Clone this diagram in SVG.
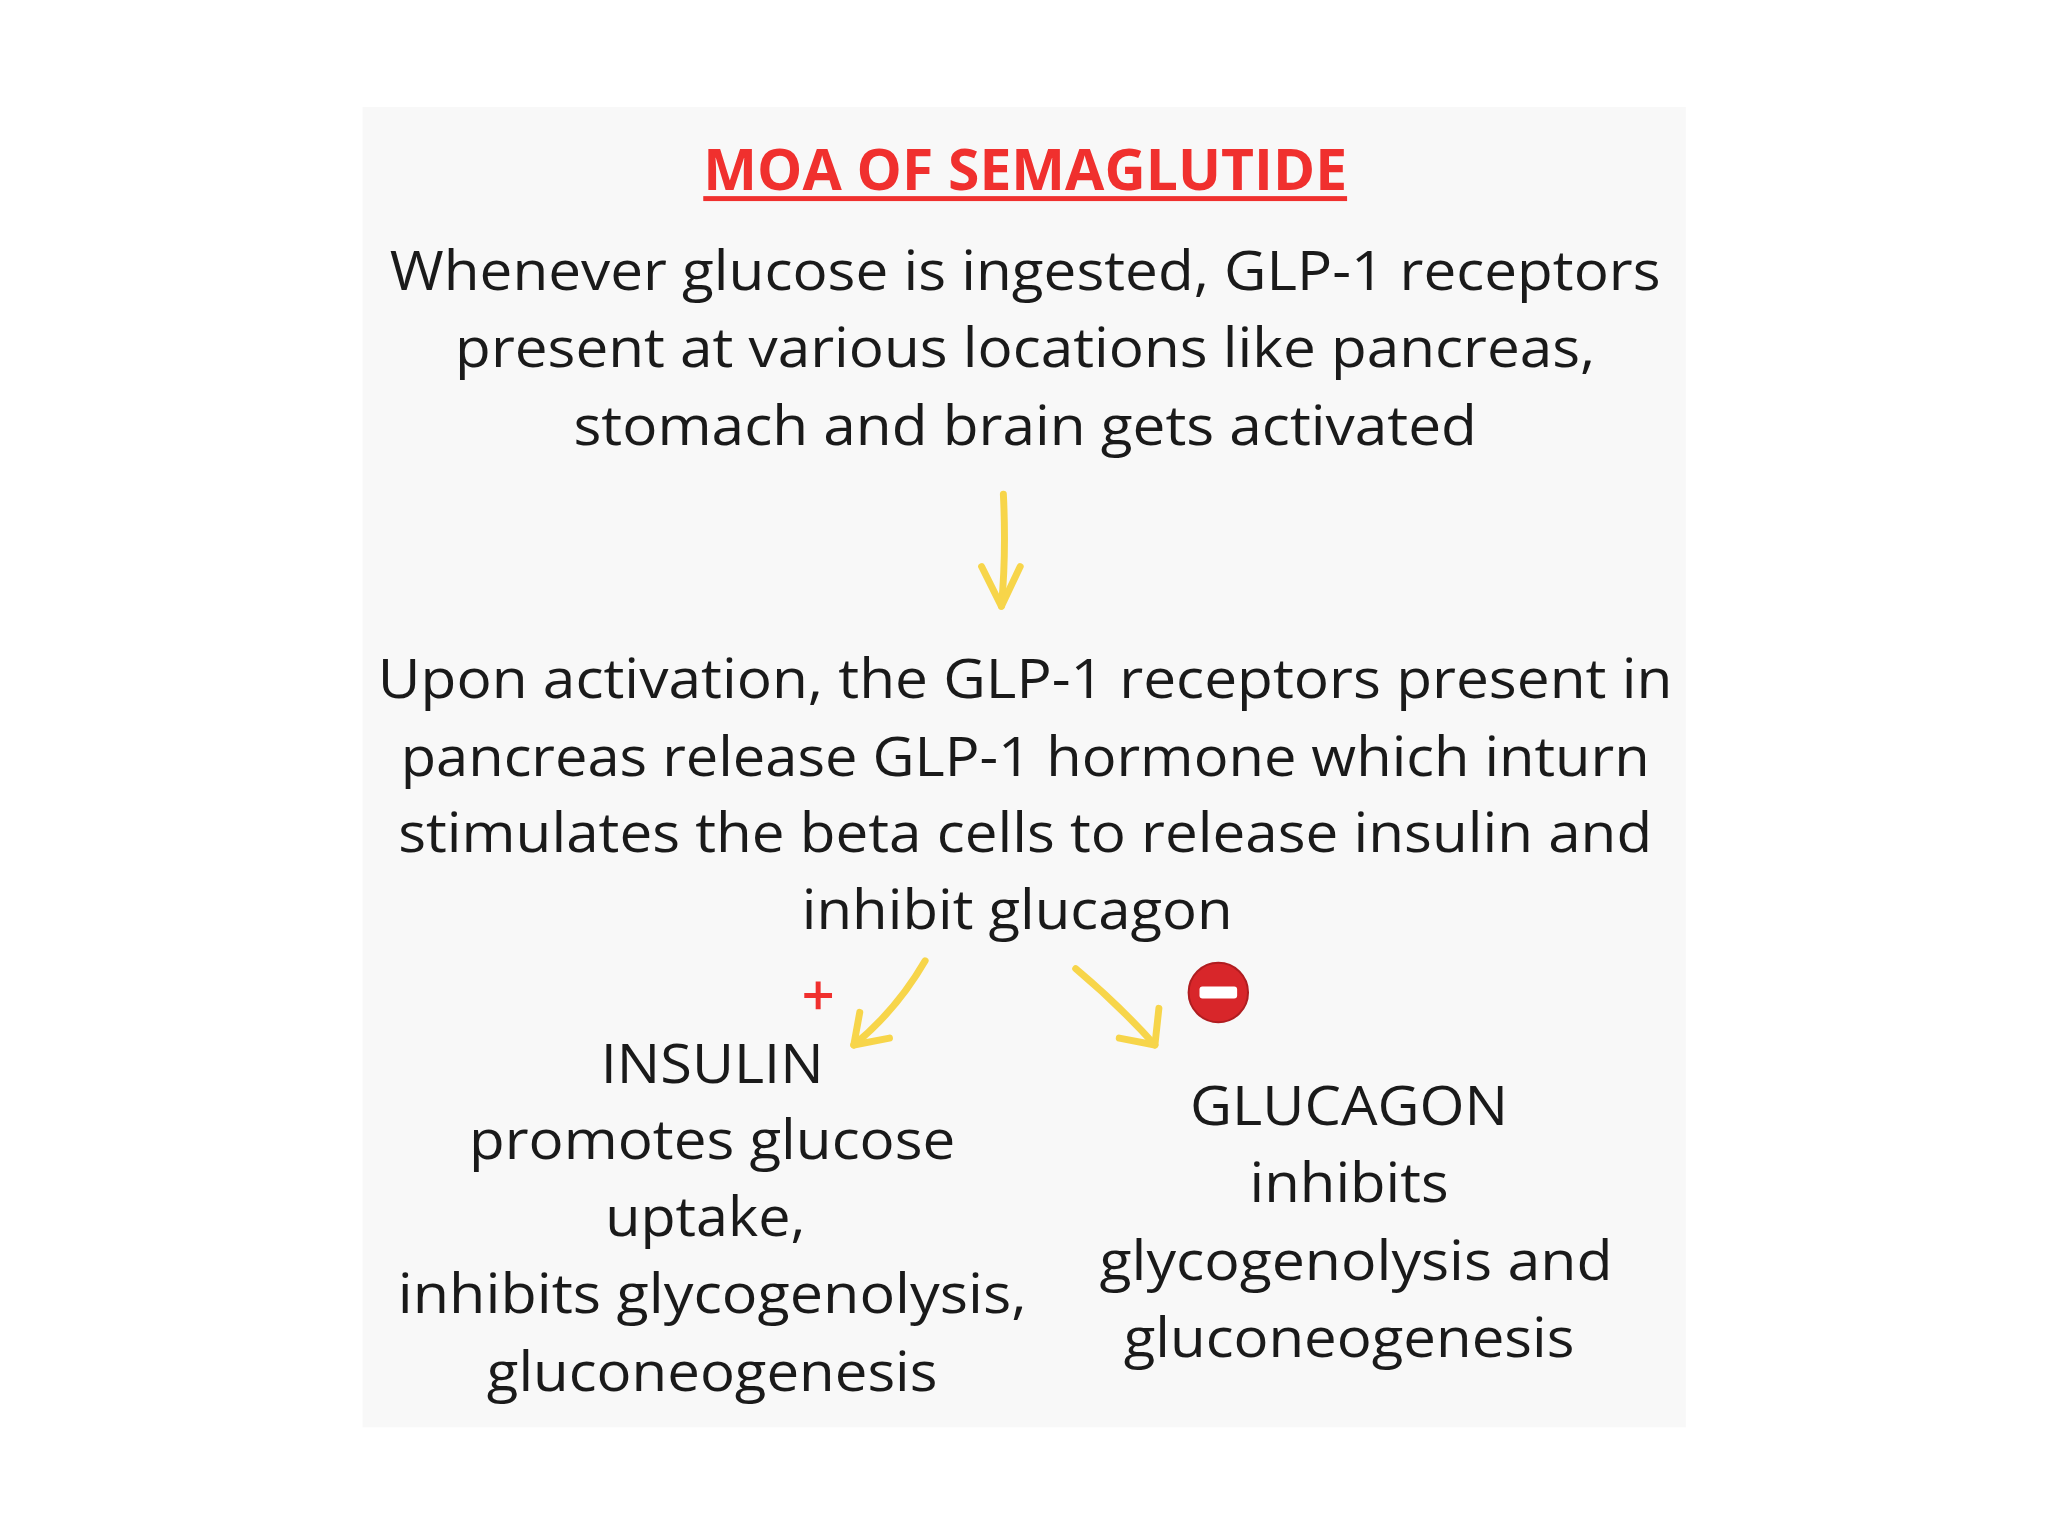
<svg xmlns="http://www.w3.org/2000/svg" width="2048" height="1536" viewBox="0 0 2048 1536">
<style>
.t{font-family:"Open Sans","Liberation Sans",sans-serif;font-size:56px;fill:#1a1a1a;text-anchor:middle}
.a{fill:none;stroke:#f7d54a;stroke-width:7;stroke-linecap:round;stroke-linejoin:round}
</style>
<rect width="2048" height="1536" fill="#fff"/>
<g transform="scale(0.9905)">
<rect x="366" y="108" width="1336" height="1333" fill="#f8f8f8"/>
<g id="title">
<text x="1035" y="192" style="font-family:'Open Sans','Liberation Sans',sans-serif;font-size:58px;font-weight:bold;fill:#f0302e;text-anchor:middle" textLength="650" lengthAdjust="spacingAndGlyphs">MOA OF SEMAGLUTIDE</text>
<rect x="710" y="198" width="650" height="5" fill="#f0302e"/>
</g>
<g id="node1">
<text class="t" x="1035" y="293" textLength="1283" lengthAdjust="spacingAndGlyphs">Whenever glucose is ingested, GLP-1 receptors</text>
<text class="t" x="1035" y="371" textLength="1151" lengthAdjust="spacingAndGlyphs">present at various locations like pancreas,</text>
<text class="t" x="1035" y="449" textLength="912" lengthAdjust="spacingAndGlyphs">stomach and brain gets activated</text>
</g>
<g id="node2">
<text class="t" x="1035" y="705" textLength="1307" lengthAdjust="spacingAndGlyphs">Upon activation, the GLP-1 receptors present in</text>
<text class="t" x="1035" y="783" textLength="1261" lengthAdjust="spacingAndGlyphs">pancreas release GLP-1 hormone which inturn</text>
<text class="t" x="1035" y="860" textLength="1266" lengthAdjust="spacingAndGlyphs">stimulates the beta cells to release insulin and</text>
<text class="t" x="1027" y="938" textLength="435" lengthAdjust="spacingAndGlyphs">inhibit glucagon</text>
</g>
<g id="insulin">
<text class="t" x="719" y="1093" textLength="225" lengthAdjust="spacingAndGlyphs">INSULIN</text>
<text class="t" x="719" y="1170" textLength="491" lengthAdjust="spacingAndGlyphs">promotes glucose</text>
<text class="t" x="712" y="1248" textLength="202" lengthAdjust="spacingAndGlyphs">uptake,</text>
<text class="t" x="719" y="1326" textLength="635" lengthAdjust="spacingAndGlyphs">inhibits glycogenolysis,</text>
<text class="t" x="719" y="1404" textLength="455" lengthAdjust="spacingAndGlyphs">gluconeogenesis</text>
</g>
<g id="glucagon">
<text class="t" x="1362" y="1136" textLength="321" lengthAdjust="spacingAndGlyphs">GLUCAGON</text>
<text class="t" x="1362" y="1214" textLength="201" lengthAdjust="spacingAndGlyphs">inhibits</text>
<text class="t" x="1369" y="1292" textLength="518" lengthAdjust="spacingAndGlyphs">glycogenolysis and</text>
<text class="t" x="1362" y="1370" textLength="455" lengthAdjust="spacingAndGlyphs">gluconeogenesis</text>
</g>
<g id="plus">
<path d="M812 1005h28M826 991v28" stroke="#f0302e" stroke-width="5"/>
</g>
<g id="stop">
<circle cx="1230" cy="1002" r="30" fill="#d8262a" stroke="#b01d20" stroke-width="2"/>
<rect x="1211" y="996" width="38" height="12" rx="3" fill="#fff"/>
</g>
<g id="connectors">
<path class="a" d="M1013 499 Q1016 560 1011 612"/>
<path class="a" d="M991 572 L1011 612 L1030 572"/>
<path class="a" d="M934 970 Q905 1020 862 1055"/>
<path class="a" d="M868 1022 L862 1055 L898 1048"/>
<path class="a" d="M1086 978 Q1130 1015 1166 1055"/>
<path class="a" d="M1170 1018 L1166 1055 L1130 1048"/>
</g>
</g>
</svg>
